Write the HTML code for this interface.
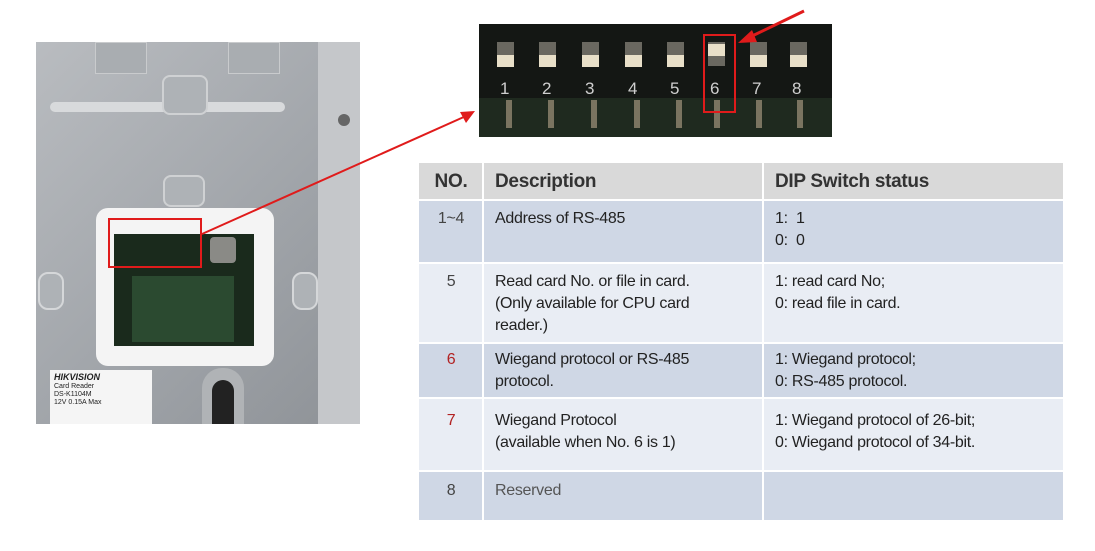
<!DOCTYPE html>
<html><head><meta charset="utf-8"><style>
body{margin:0;width:1095px;height:551px;background:#fff;position:relative;overflow:hidden;font-family:"Liberation Sans",sans-serif;}
.a{position:absolute;}
.c{position:absolute;font-size:16px;line-height:22px;color:#222;letter-spacing:-0.3px;}
.n{text-align:center;width:64px;color:#444;}
</style></head><body>
<!-- left photo -->
<div class="a" style="left:36px;top:42px;width:324px;height:382px;background:linear-gradient(135deg,#b9bcc0,#9fa3a8 60%,#8e9297);"></div>
<div class="a" style="left:318px;top:42px;width:42px;height:382px;background:#c5c7ca;"></div>
<div class="a" style="left:50px;top:102px;width:235px;height:10px;border-radius:5px;background:#d8dadc;"></div>
<div class="a" style="left:95px;top:42px;width:50px;height:30px;background:#a9adb1;border:1px solid #c9cbcd;"></div>
<div class="a" style="left:228px;top:42px;width:50px;height:30px;background:#a9adb1;border:1px solid #c9cbcd;"></div>
<div class="a" style="left:162px;top:75px;width:42px;height:36px;border-radius:8px;background:#aeb2b6;border:2px solid #cfd1d3;"></div>
<div class="a" style="left:163px;top:175px;width:38px;height:28px;border-radius:8px;background:#aeb2b6;border:2px solid #cfd1d3;"></div>
<div class="a" style="left:338px;top:114px;width:12px;height:12px;border-radius:50%;background:#666;"></div>
<div class="a" style="left:38px;top:272px;width:22px;height:34px;border-radius:10px;background:#aeb2b6;border:2px solid #d5d7d9;"></div>
<div class="a" style="left:292px;top:272px;width:22px;height:34px;border-radius:10px;background:#aeb2b6;border:2px solid #d5d7d9;"></div>
<div class="a" style="left:96px;top:208px;width:178px;height:158px;border-radius:12px;background:#f4f4f4;"></div>
<div class="a" style="left:114px;top:234px;width:140px;height:112px;background:#1a2a1c;"></div>
<div class="a" style="left:132px;top:276px;width:102px;height:66px;background:#2b4a30;"></div>
<div class="a" style="left:210px;top:237px;width:26px;height:26px;border-radius:4px;background:#8a8a86;"></div>
<div class="a" style="left:108px;top:218px;width:94px;height:50px;border:2px solid #e01b1b;box-sizing:border-box;"></div>
<div class="a" style="left:50px;top:370px;width:102px;height:54px;background:#f5f5f5;font-size:7px;line-height:8px;color:#222;padding:3px 4px;box-sizing:border-box;"><b style="font-size:9px;font-style:italic">HIKVISION</b><br>Card Reader<br>DS-K1104M<br>12V 0.15A Max</div>
<div class="a" style="left:202px;top:368px;width:42px;height:56px;border-radius:20px 20px 0 0;background:#b0b3b6;"></div>
<div class="a" style="left:212px;top:380px;width:22px;height:44px;border-radius:11px 11px 0 0;background:#222;"></div>
<!-- top photo -->
<div class="a" style="left:479px;top:24px;width:353px;height:113px;background:#141714;"></div>
<div class="a" style="left:479px;top:98px;width:353px;height:39px;background:#1f2a1f;"></div>
<svg class="a" style="left:0;top:0" width="1095" height="551">
<g fill="#6a6860">
<rect x="497" y="42" width="17" height="24"/><rect x="539" y="42" width="17" height="24"/><rect x="582" y="42" width="17" height="24"/><rect x="625" y="42" width="17" height="24"/><rect x="667" y="42" width="17" height="24"/><rect x="708" y="42" width="17" height="24"/><rect x="750" y="42" width="17" height="24"/><rect x="790" y="42" width="17" height="24"/>
</g>
<g fill="#e8dfc8">
<rect x="497" y="55" width="17" height="12"/><rect x="539" y="55" width="17" height="12"/><rect x="582" y="55" width="17" height="12"/><rect x="625" y="55" width="17" height="12"/><rect x="667" y="55" width="17" height="12"/><rect x="708" y="44" width="17" height="12"/><rect x="750" y="55" width="17" height="12"/><rect x="790" y="55" width="17" height="12"/>
</g>
<g fill="#cfcfcf" font-size="17" font-family="Liberation Sans">
<text x="500" y="94">1</text><text x="542" y="94">2</text><text x="585" y="94">3</text><text x="628" y="94">4</text><text x="670" y="94">5</text><text x="710" y="94">6</text><text x="752" y="94">7</text><text x="792" y="94">8</text>
</g>
<g fill="#7a7460"><rect x="506" y="100" width="6" height="28"/><rect x="548" y="100" width="6" height="28"/><rect x="591" y="100" width="6" height="28"/><rect x="634" y="100" width="6" height="28"/><rect x="676" y="100" width="6" height="28"/><rect x="714" y="100" width="6" height="28"/><rect x="756" y="100" width="6" height="28"/><rect x="797" y="100" width="6" height="28"/></g>
<rect x="704" y="35" width="31" height="77" fill="none" stroke="#e01b1b" stroke-width="2"/>
<line x1="804" y1="11" x2="748" y2="38" stroke="#e01b1b" stroke-width="3"/>
<polygon points="738,43 752,30 757,42" fill="#e01b1b"/>
<line x1="202" y1="234" x2="466" y2="116" stroke="#e01b1b" stroke-width="2"/>
<polygon points="475,111 460,112 466,123" fill="#e01b1b"/>
</svg>
<!-- table -->
<div class="a" style="left:419px;top:163px;width:644px;height:37px;background:#d9d9d9;"></div>
<div class="a" style="left:419px;top:200px;width:644px;height:63px;background:#cfd7e5;"></div>
<div class="a" style="left:419px;top:263px;width:644px;height:80px;background:#e9edf4;"></div>
<div class="a" style="left:419px;top:343px;width:644px;height:55px;background:#cfd7e5;"></div>
<div class="a" style="left:419px;top:398px;width:644px;height:73px;background:#e9edf4;"></div>
<div class="a" style="left:419px;top:471px;width:644px;height:49px;background:#cfd7e5;"></div>
<div class="a" style="left:482px;top:163px;width:2px;height:357px;background:#fff;"></div>
<div class="a" style="left:762px;top:163px;width:2px;height:357px;background:#fff;"></div>
<div class="a" style="left:419px;top:199px;width:644px;height:2px;background:#fff;"></div>
<div class="a" style="left:419px;top:262px;width:644px;height:2px;background:#fff;"></div>
<div class="a" style="left:419px;top:342px;width:644px;height:2px;background:#fff;"></div>
<div class="a" style="left:419px;top:397px;width:644px;height:2px;background:#fff;"></div>
<div class="a" style="left:419px;top:470px;width:644px;height:2px;background:#fff;"></div>
<div class="c" style="left:419px;top:171px;width:64px;text-align:center;font-weight:bold;font-size:19px;color:#333">NO.</div>
<div class="c" style="left:495px;top:171px;font-weight:bold;font-size:19px;color:#333">Description</div>
<div class="c" style="left:775px;top:171px;font-weight:bold;font-size:19px;color:#333">DIP Switch status</div>
<div class="c n" style="left:419px;top:208px;">1~4</div>
<div class="c" style="left:495px;top:208px;">Address of RS-485</div>
<div class="c" style="left:775px;top:208px;">1:&nbsp; 1<br>0:&nbsp; 0</div>
<div class="c n" style="left:419px;top:271px;">5</div>
<div class="c" style="left:495px;top:271px;">Read card No. or file in card.<br>(Only available for CPU card<br>reader.)</div>
<div class="c" style="left:775px;top:271px;">1: read card No;<br>0: read file in card.</div>
<div class="c n" style="left:419px;top:349px;color:#b22222">6</div>
<div class="c" style="left:495px;top:349px;">Wiegand protocol or RS-485<br>protocol.</div>
<div class="c" style="left:775px;top:349px;">1: Wiegand protocol;<br>0: RS-485 protocol.</div>
<div class="c n" style="left:419px;top:410px;color:#b22222">7</div>
<div class="c" style="left:495px;top:410px;">Wiegand Protocol<br>(available when No. 6 is 1)</div>
<div class="c" style="left:775px;top:410px;">1: Wiegand protocol of 26-bit;<br>0: Wiegand protocol of 34-bit.</div>
<div class="c n" style="left:419px;top:480px;">8</div>
<div class="c" style="left:495px;top:480px;color:#555">Reserved</div>
</body></html>
